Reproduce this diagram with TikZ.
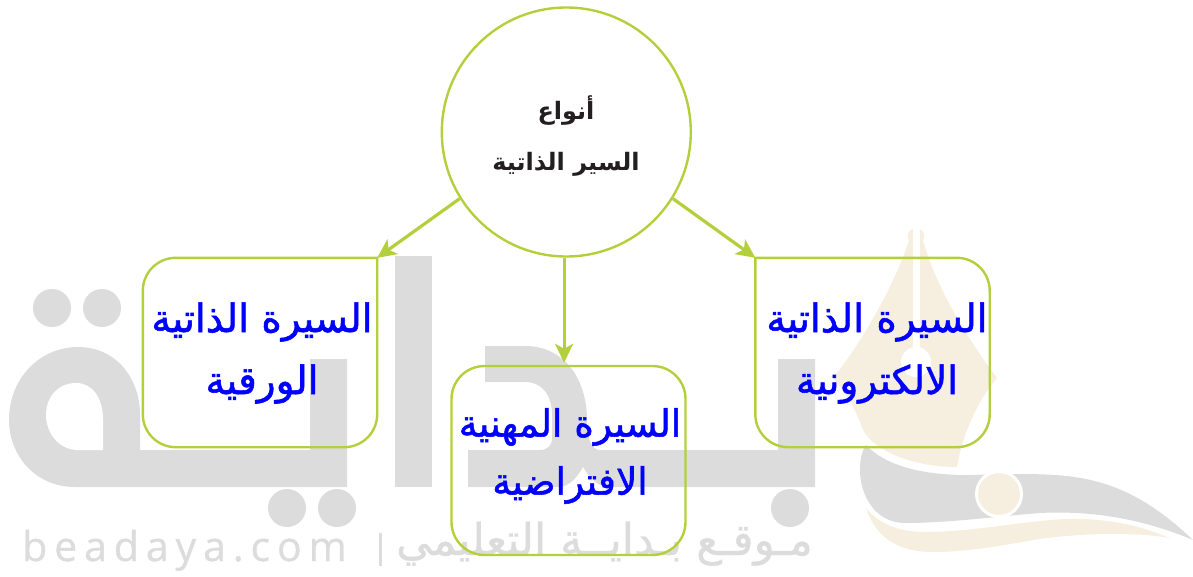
\documentclass[tikz,border=0pt]{standalone}
\usepackage{fontspec}
\usetikzlibrary{arrows.meta,calc}
\setmainfont{DejaVu Sans}
\newfontfamily\arabicfont[Script=Arabic]{DejaVu Sans}
\newfontfamily\heavyarabic[Script=Arabic,FakeBold=1.4]{DejaVu Sans}
\newfontfamily\wmarabic[Script=Arabic,FakeBold=0.8]{DejaVu Sans}
\newfontfamily\latinwm[FakeBold=0.8]{Open Sans}
\TeXXeTstate=1
\definecolor{lime}{HTML}{B4CF3C}
\definecolor{wmgray}{HTML}{DCDCDC}
\definecolor{wmbeige}{HTML}{F6EEDF}
\definecolor{ink}{HTML}{231F20}
\tikzset{
  wm/.style={fill=wmgray,draw=none},
  wb/.style={fill=wmbeige,draw=none},
  wdot/.style={circle,fill=wmgray,minimum size=38pt,inner sep=0pt},
  edgeline/.style={draw=lime,line width=2.4pt},
  conn/.style={draw=lime,line width=3.2pt,-{Stealth[length=19pt,width=18pt,inset=5pt,fill=lime]}},
  boxtext/.style={text=blue,align=center,font=\heavyarabic\fontsize{39}{62}\selectfont,inner sep=0pt},
  midtext/.style={text=blue,align=center,font=\heavyarabic\fontsize{37.5}{58}\selectfont,inner sep=0pt},
  cornerbox/.style={minimum width=234pt,minimum height=189pt,inner sep=0pt},
  roundbox/.style={cornerbox,edgeline,rounded corners=33pt},
  hub/.style={circle,edgeline,minimum size=249pt,inner sep=0pt},
  hubtext/.style={text=ink,align=center,font=\arabicfont\bfseries\fontsize{24}{51}\selectfont,inner sep=0pt},
}
\begin{document}
\begin{tikzpicture}[x=1pt,y=-1pt]
\useasboundingbox (0,0) rectangle (1193,576);
% --- watermark: large letters
\fill[wm] (140,487) -- (75,487) .. controls (35,487) and (9,455) .. (9,420)
  .. controls (9,378) and (40,347) .. (78,347) .. controls (116,347) and (140,378) .. (140,415)
  -- (140,450) -- (310,450) -- (310,359) -- (347,359) -- (347,487) -- cycle;
\fill[white] (103,450) -- (78,450) .. controls (58,450) and (46,432) .. (46,415)
  .. controls (46,397) and (58,383) .. (76,383) .. controls (92,383) and (103,397) .. (103,420) -- cycle;
\fill[wm] (395,256) rectangle (432,487);
\node[wdot] (dotA) at (52,308) {};
\node[wdot] (dotB) at (102,308) {};
\node[wdot] (dotC) at (287,508) {};
\node[wdot] (dotD) at (337,508) {};
\fill[wm] (468,487) -- (468,450) -- (540,450) .. controls (548,450) and (552,445) .. (552,438)
  -- (552,415) .. controls (552,395) and (542,382) .. (525,382) -- (485,382) -- (485,346) -- (525,346)
  .. controls (565,346) and (587,380) .. (587,420) .. controls (587,440) and (592,450) .. (600,450)
  -- (778,450) -- (778,359) -- (815,359) -- (815,487) -- cycle;
\fill[white] (562,487) .. controls (572,484) and (578,476) .. (583,467) .. controls (588,476) and (595,484) .. (605,487) -- cycle;
\node[wdot] (dotE) at (790,508) {};
% --- watermark: pen logo
\fill[wb] (916,228) .. controls (910,228) and (905,235) .. (909,240)
  .. controls (895,285) and (860,345) .. (833,378)
  .. controls (848,395) and (858,415) .. (863,430)
  .. controls (875,452) and (915,467) .. (957,467)
  .. controls (962,435) and (978,400) .. (997,378)
  .. controls (965,335) and (935,285) .. (923,240)
  .. controls (927,235) and (922,228) .. (916,228) -- cycle;
\fill[white] (912.5,226) rectangle (919.5,350);
\fill[white] (916,362) circle (15);
\fill[wm] (866,445) .. controls (885,465) and (920,475) .. (967,475) -- (1013,474)
  .. controls (1075,474) and (1125,475) .. (1193,540)
  .. controls (1150,522) and (1100,510) .. (1040,513)
  .. controls (1000,516) and (950,523) .. (905,523)
  .. controls (875,523) and (860,495) .. (860,470)
  .. controls (860,460) and (862,450) .. (866,445) -- cycle;
\fill[wb] (866,508) .. controls (880,525) and (900,532) .. (925,532)
  .. controls (980,532) and (1040,517) .. (1085,519)
  .. controls (1125,521) and (1150,530) .. (1170,538)
  .. controls (1130,531) and (1070,534) .. (1033,540)
  .. controls (1000,546) and (965,552) .. (933,552)
  .. controls (895,552) and (875,535) .. (866,508) -- cycle;
\fill[wmbeige,draw=white,line width=3pt] (999,494) circle (22.5);
% --- watermark: text
\node[inner sep=0pt,text=wmgray,anchor=base west,font=\latinwm\fontsize{41}{41}\selectfont] (wmlat) at (22,561)
  {b\hspace{6.9pt}e\hspace{6.9pt}a\hspace{6.9pt}d\hspace{6.9pt}a\hspace{6.9pt}y\hspace{6.9pt}a\hspace{6.9pt}.\hspace{6.9pt}c\hspace{6.9pt}o\hspace{6.9pt}m};
\fill[wm] (379,533) rectangle (382,566);
\node[inner sep=0pt,text=wmgray,anchor=base east,font=\wmarabic\fontsize{44}{44}\selectfont] (wmar) at (813,555)
  {\beginR مـوقـع بـدايــة التعليمي\endR};
% --- hub
\node[hub] (hub) at (566.3,132) {};
\node[hubtext] (hubt) at (566,136) {\beginR أنواع\endR\\\beginR السير الذاتية\endR};
% --- boxes
\node[cornerbox] (lbox) at (260,352.5) {};
\draw[edgeline,line cap=rect,rounded corners=33pt] (lbox.north east) -- (lbox.north west) -- (lbox.south west) -- (lbox.south east) -- (lbox.north east);
\node[boxtext] (ltxt) at (262,353) {\beginR السيرة الذاتية\endR\\\beginR الورقية\endR};
\node[roundbox] (mbox) at (568.5,460.5) {};
\node[midtext] (mtxt) at (570,456) {\beginR السيرة المهنية\endR\\\beginR الافتراضية\endR};
\node[cornerbox] (rbox) at (872.5,352.5) {};
\draw[edgeline,line cap=rect,rounded corners=33pt] (rbox.north west) -- (rbox.north east) -- (rbox.south east) -- (rbox.south west) -- (rbox.north west);
\node[boxtext] (rtxt) at (877,353) {\beginR السيرة الذاتية\endR\\\beginR الالكترونية\endR};
% --- connectors
\draw[conn] (hub.212.8) -- (lbox.north east);
\draw[conn] (hub.-91) -- ($(hub.-91 |- mbox.north)+(0,-2)$);
\draw[conn] (hub.-32.8) -- (rbox.north west);
\end{tikzpicture}
\end{document}
